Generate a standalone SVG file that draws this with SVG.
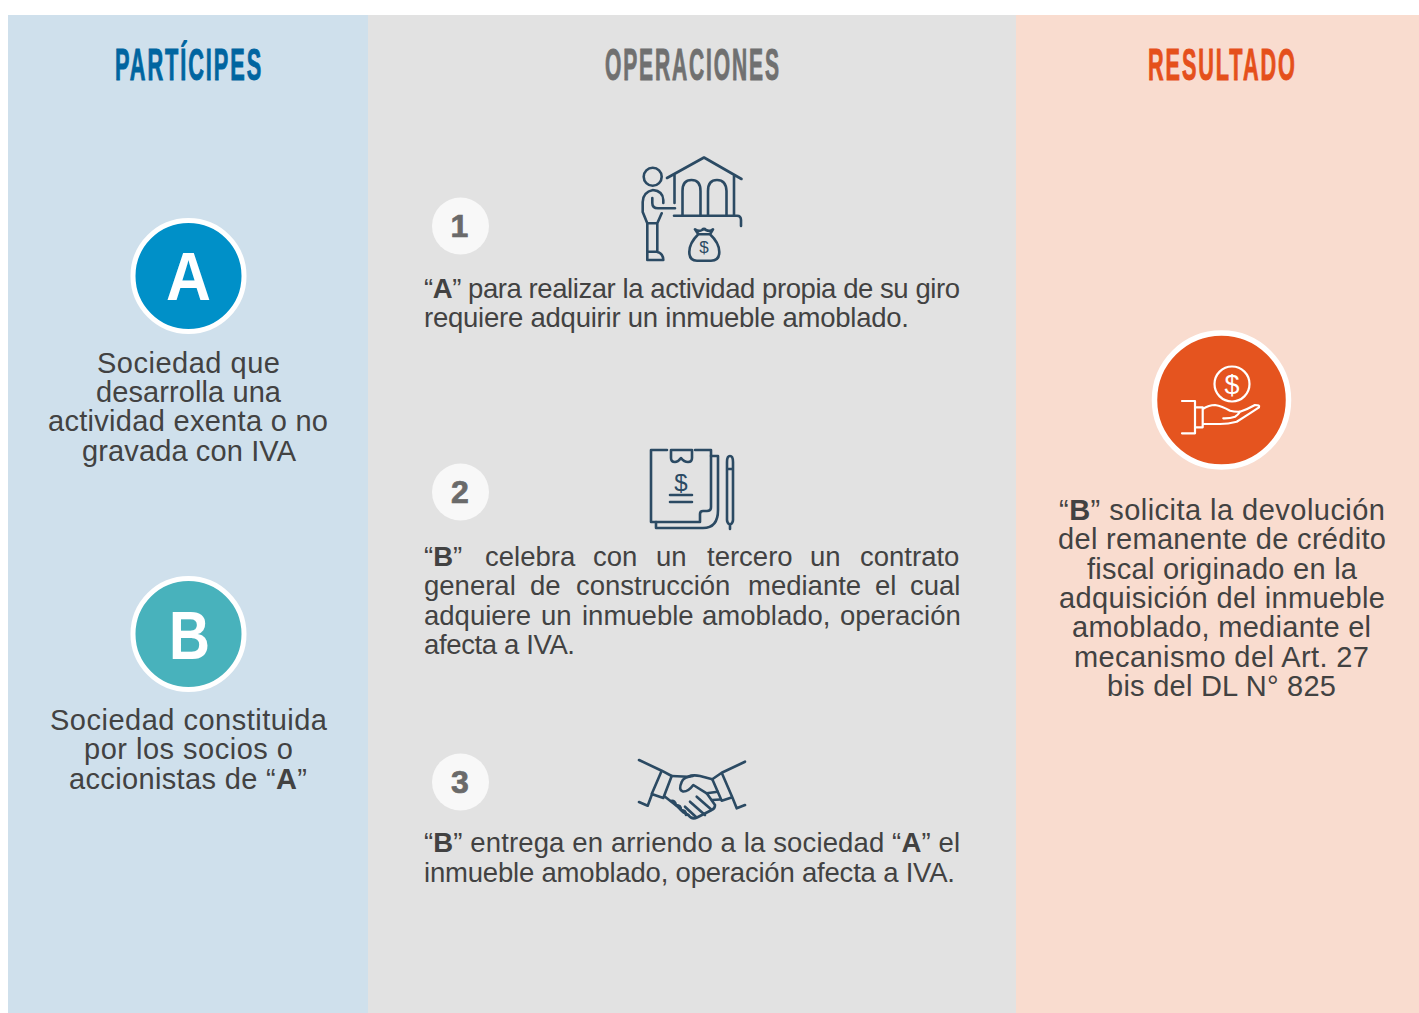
<svg xmlns="http://www.w3.org/2000/svg" width="1419" height="1013" viewBox="0 0 1419 1013">
<style>
.t{font-family:"Liberation Sans",Arial,sans-serif;font-size:27.5px;fill:#424242}
.s{font-size:29px}
.b{font-weight:700}
.h{font-family:"Liberation Sans",Arial,sans-serif;font-size:45px;font-weight:700;letter-spacing:4px;stroke-width:1}
.n{font-family:"Liberation Sans",Arial,sans-serif;font-size:32px;font-weight:700;fill:#6a6a6a;stroke:#6a6a6a;stroke-width:.7;text-anchor:middle}
.L{font-family:"Liberation Sans",Arial,sans-serif;font-size:69px;font-weight:700;fill:#fff}
.i{fill:none;stroke:#2b4a63;stroke-width:2.6;stroke-linecap:round;stroke-linejoin:round}
.w{fill:none;stroke:#fff;stroke-width:2.2;stroke-linecap:round;stroke-linejoin:round}
.d{font-family:"Liberation Sans",Arial,sans-serif;text-anchor:middle}
.c{fill:#f8f8f8}
</style>
<rect width="1419" height="1013" fill="#fff"/>
<rect x="8" y="15" width="360" height="998" fill="#cfe0ec"/>
<rect x="368" y="15" width="648" height="998" fill="#e2e2e2"/>
<rect x="1016" y="15" width="403" height="998" fill="#f9dccf"/>
<g id="connectors"/>
<text class="h" transform="translate(115 80) scale(.483 1)" fill="#0065a0" stroke="#0065a0">PARTÍCIPES</text>
<text class="h" transform="translate(605 80) scale(.467 1)" fill="#707070" stroke="#707070">OPERACIONES</text>
<text class="h" transform="translate(1148 80) scale(.481 1)" fill="#e5501b" stroke="#e5501b">RESULTADO</text>

<g id="node-a">
<circle cx="188.500" cy="276" r="55.5" fill="#0090c8" stroke="#fff" stroke-width="5"/>
<text class="L" x="166" y="299.500" textLength="45" lengthAdjust="spacingAndGlyphs">A</text>
<text class="t s" x="97" y="373" textLength="183">Sociedad que</text>
<text class="t s" x="96" y="402" textLength="185">desarrolla una</text>
<text class="t s" x="48" y="431" textLength="280">actividad exenta o no</text>
<text class="t s" x="82" y="461" textLength="214">gravada con IVA</text>
</g>
<g id="node-b">
<circle cx="188.500" cy="634" r="55.5" fill="#48b2bc" stroke="#fff" stroke-width="5"/>
<text class="L" x="169" y="658.500" textLength="41" lengthAdjust="spacingAndGlyphs">B</text>
<text class="t s" x="50" y="730" textLength="277">Sociedad constituida</text>
<text class="t s" x="84" y="759" textLength="209">por los socios o</text>
<text class="t s" x="69" y="789" textLength="238">accionistas de “<tspan class="b">A</tspan>”</text>
</g>

<g id="op-1">
<circle class="c" cx="460.500" cy="226" r="28.500"/>
<text class="n" x="459.500" y="236.500">1</text>
<g class="i">
<circle cx="652.7" cy="176.7" r="9"/>
<path d="M667 178 704 157.500 741.500 179M674.500 174V203M734 175V215M674 215.700H737Q741 215.700 741 220V226"/>
<path d="M682.500 215V191Q682.500 180 691.500 180T700.500 191V215M708 215V191Q708 180 717 180T726.500 191V215"/>
<path d="M653 190Q643 192 642.700 202V212L647.300 223.300V260H663.300Q663 253 656.700 251.700H647.300M657.300 223.300V251.700M647.300 223.300H657.300L661.700 213.300M653 190Q663 191 663.300 200V203M652.300 198V203Q652.300 208.300 658 208.300H675"/>
<path d="M695 229.300Q699 232 702 230 704 228 706 230 710 232 713 229.300L710 234.300H698.300ZM698.300 234.300Q689.300 243 689.300 252 689.300 260.700 697 260.700H711Q719.300 260.700 719.300 252 719.300 243 710 234.300"/>
</g>
<text class="d" x="704" y="253" font-size="17" fill="#2b4a63">$</text>
<text class="t" x="424" y="298" textLength="536">“<tspan class="b">A</tspan>” para realizar la actividad propia de su giro</text>
<text class="t" x="424" y="327" textLength="485">requiere adquirir un inmueble amoblado.</text>
</g>

<g id="op-2">
<circle class="c" cx="460.500" cy="492" r="28.500"/>
<text class="n" x="460" y="502.500">2</text>
<g class="i">
<path d="M667 450H651V522H700V514Q700 511 703 511H707Q711 511 711 507V450H695M671 450V458Q671 462 675 462 678 462 681 458 684 462 688 462 692 462 692 458V450H671"/>
<path d="M711 456H718V510Q718 528 703 528H656V522M670 495H692M670 502H692"/>
<path d="M727 462Q727 456 730 456T733 462V520Q733 523 730 525 727 523 727 520ZM727 469H733M730 525V529"/>
</g>
<text class="d" x="681" y="491" font-size="24" fill="#2b4a63">$</text>
<text class="t" y="566"><tspan x="424">“</tspan><tspan class="b">B</tspan>” <tspan x="485">celebra</tspan> <tspan x="593">con</tspan> <tspan x="656">un</tspan> <tspan x="707">tercero</tspan> <tspan x="810">un</tspan> <tspan x="860">contrato</tspan></text>
<text class="t" y="595"><tspan x="424">general</tspan> <tspan x="530">de</tspan> <tspan x="576">construcción</tspan> <tspan x="748">mediante</tspan> <tspan x="875">el</tspan> <tspan x="910">cual</tspan></text>
<text class="t" y="625"><tspan x="424">adquiere</tspan> <tspan x="541">un</tspan> <tspan x="582">inmueble</tspan> <tspan x="702">amoblado,</tspan> <tspan x="840">operación</tspan></text>
<text class="t" x="424" y="654" textLength="151">afecta a IVA.</text>
</g>

<g id="op-3">
<circle class="c" cx="460.500" cy="782" r="28.500"/>
<text class="n" x="460" y="792.500">3</text>
<g class="i">
<path d="M639 760 661.700 770.700 651.700 794 663.300 798 671.700 776 661.700 770.700M639 802 647.700 805.700 651.700 795"/>
<path d="M745 761.700 721.700 772.700 712.300 779.300 721.700 800.700 732.300 797.300 721.700 772.700M732.300 797.300 736.700 808.300 745 805"/>
<path d="M671.700 776 688 776.700Q693 774.500 700 776L712.300 779.300"/>
<path d="M693 776Q683 777 681.700 782 678 790 683 791.500 688 792 693.300 785L706.700 793.300 715 805Q715 809 711.700 810L697 817.500Q692 820 688.300 815"/>
<path d="M706.700 793.300 717.700 791.700M712 800 720 799.500"/>
<path d="M665 796.700 673 803 678 807 683 812 688.300 815M685 806.700 696 817M690 801.700 705 815M696.700 796.700 711 809.300"/>
<path d="M671 801Q675 800 676 805M676 805Q681 805 681 810M681 810Q686 810 686 815"/>
</g>
<text class="t" x="424" y="852" textLength="536">“<tspan class="b">B</tspan>” entrega en arriendo a la sociedad “<tspan class="b">A</tspan>” el</text>
<text class="t" x="424" y="882" textLength="531">inmueble amoblado, operación afecta a IVA.</text>
</g>

<g id="resultado">
<circle cx="1221.500" cy="400" r="67" fill="#e5541f" stroke="#fff" stroke-width="5.500"/>
<g class="w">
<circle cx="1232" cy="384" r="17.500"/>
<path d="M1182 401H1195V433.300H1182M1195 407.300H1202.700V427.300H1195M1202.700 409Q1209 405 1215 405 1222 406 1230 410.700 1235 412 1240 411.700 1248 409 1255 405 1260 405 1259 407.300 1250 413.300 1236.700 421.700 1228 424 1220 424H1202.700M1223.300 418.300Q1230 418.500 1235 416.700 1238 415 1240 411.700"/>
</g>
<text class="d" x="1232" y="394" font-size="27" fill="#fff">$</text>
<text class="t s" x="1059" y="519.500" textLength="326">“<tspan class="b">B</tspan>” solicita la devolución</text>
<text class="t s" x="1058" y="548.500" textLength="328">del remanente de crédito</text>
<text class="t s" x="1087" y="578.500" textLength="270">fiscal originado en la</text>
<text class="t s" x="1059" y="607.500" textLength="326">adquisición del inmueble</text>
<text class="t s" x="1072" y="636.500" textLength="299">amoblado, mediante el</text>
<text class="t s" x="1074" y="666.500" textLength="295">mecanismo del Art. 27</text>
<text class="t s" x="1107" y="695.500" textLength="229">bis del DL N° 825</text>
</g>
</svg>
